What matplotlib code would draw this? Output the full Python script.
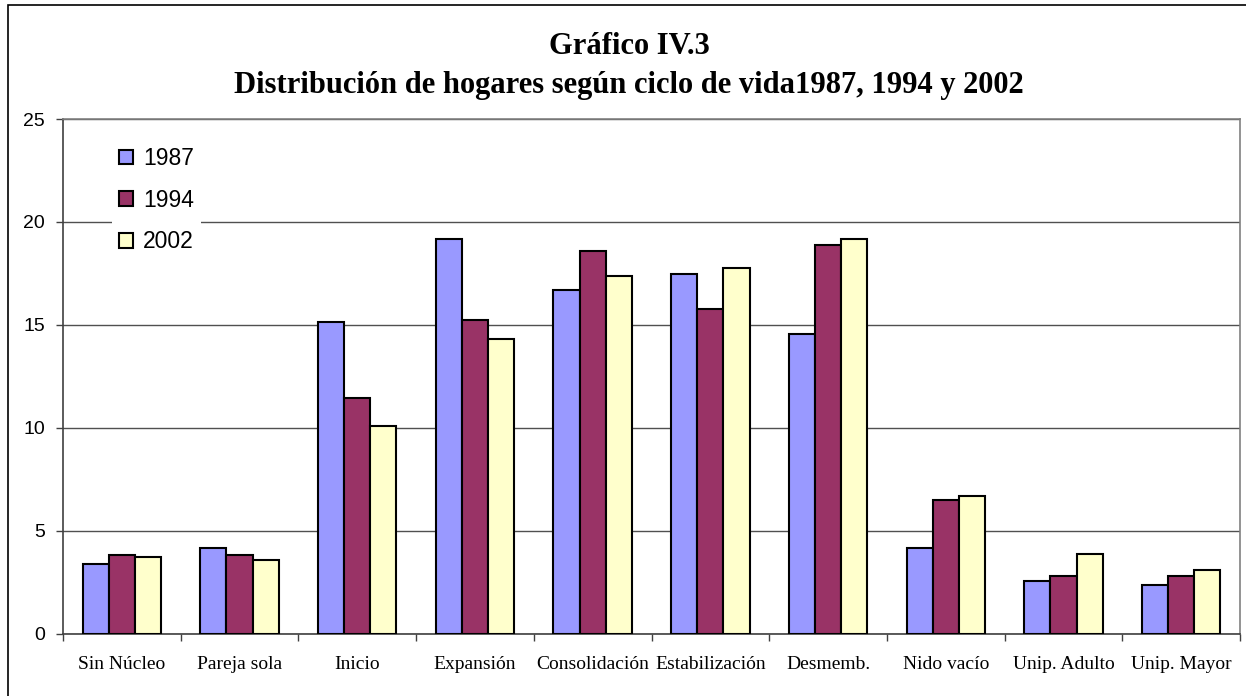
import matplotlib
matplotlib.use("Agg")
import matplotlib.pyplot as plt
import numpy as np
from matplotlib.patches import Rectangle

# Data
categories = ["Sin Núcleo", "Pareja sola", "Inicio", "Expansión", "Consolidación",
              "Estabilización", "Desmemb.", "Nido vacío", "Unip. Adulto", "Unip. Mayor"]
years = ["1987", "1994", "2002"]
v1987 = [3.4, 4.15, 15.15, 19.15, 16.7, 17.45, 14.55, 4.15, 2.55, 2.35]
v1994 = [3.8, 3.8, 11.45, 15.25, 18.6, 15.75, 18.9, 6.5, 2.8, 2.8]
v2002 = [3.7, 3.55, 10.1, 14.3, 17.35, 17.75, 19.15, 6.7, 3.85, 3.1]
colors = ["#9999FF", "#993366", "#FFFFCC"]

W, H = 1246, 696
fig = plt.figure(figsize=(W / 100, H / 100), dpi=100)
fig.patch.set_facecolor("white")

# outer chart border (only left/top visible, rest is cropped)
fig.patches.append(Rectangle((8 / W, -0.05), 1.2, (H - 5) / H + 0.05,
                             transform=fig.transFigure, fill=False,
                             edgecolor="black", linewidth=1.2, zorder=0))

left, right, bottom, top = 63 / W, 1240 / W, (H - 633.5) / H, (H - 119) / H
ax = fig.add_axes([left, bottom, right - left, top - bottom])

x = np.arange(len(categories))
width = 1 / 4.5
for i, (vals, c, lab) in enumerate(zip([v1987, v1994, v2002], colors, years)):
    ax.bar(x + (i - 1) * width, vals, width, color=c, edgecolor="black",
           linewidth=1.5, label=lab, zorder=3)

ax.set_xlim(-0.5, len(categories) - 0.5)
ax.set_ylim(0, 25)
ax.set_yticks([0, 5, 10, 15, 20, 25])
ax.yaxis.grid(True, color="#505050", linewidth=1.0, zorder=0)

# category ticks between groups
ax.set_xticks(np.arange(len(categories) + 1) - 0.5, minor=False)
ax.set_xticklabels([])
ax.set_xticks(x, minor=True)
ax.set_xticklabels(categories, minor=True, family="Liberation Serif", fontsize=14)
ax.tick_params(axis="x", which="minor", length=0, pad=16)
ax.tick_params(axis="x", which="major", length=5, width=1, color="#404040", direction="out")
ax.tick_params(axis="y", length=5, width=1, color="#404040", pad=8)
for lab in ax.get_yticklabels():
    lab.set_family("Liberation Sans")
    lab.set_fontsize(14)

ax.spines["left"].set_color("#404040")
ax.spines["bottom"].set_color("#404040")
ax.spines["top"].set_color("#808080")
ax.spines["right"].set_color("#808080")
for s in ax.spines.values():
    s.set_linewidth(1.2)

leg = ax.legend(loc="upper left", bbox_to_anchor=(112 / W, (H - 140) / H),
                bbox_transform=fig.transFigure, frameon=True, fancybox=False,
                edgecolor="none", facecolor="white", framealpha=1,
                prop={"family": "Liberation Sans", "size": 16.5},
                handlelength=0.6, handleheight=0.6, handletextpad=0.45,
                labelspacing=0.82, borderpad=0.3, borderaxespad=0)
leg.set_zorder(5)

fig.text(0.505, (H - 46) / H, "Gráfico IV.3", ha="center", va="center",
         family="Liberation Serif", fontweight="bold", fontsize=22)
fig.text(0.505, (H - 85) / H, "Distribución de hogares según ciclo de vida1987, 1994 y 2002",
         ha="center", va="center", family="Liberation Serif", fontweight="bold", fontsize=22)

fig.savefig("out.png", dpi=100)
